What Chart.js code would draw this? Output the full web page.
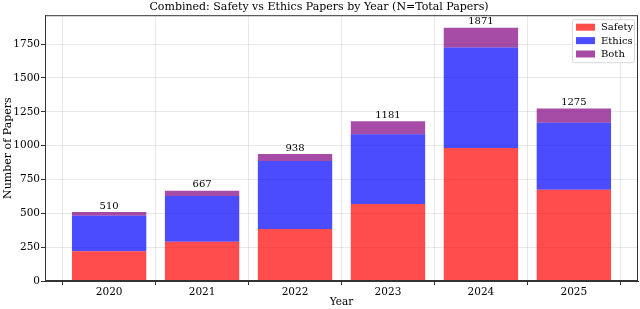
<!DOCTYPE html>
<html>
<head>
<meta charset="utf-8">
<script src="https://cdn.jsdelivr.net/npm/chart.js@4/dist/chart.umd.min.js"></script>
<style>
  html, body { margin: 0; padding: 0; background: #fff; }
  #wrap { width: 640px; height: 309px; }
</style>
</head>
<body>
<div id="wrap"><canvas id="chart" width="640" height="309"></canvas></div>
<script>
// Dados
const anos = ['2020', '2021', '2022', '2023', '2024', '2025'];
const safety = [220, 290, 385, 569, 983, 674];
const ethics = [263, 338, 502, 515, 743, 495];
const both = [27, 39, 51, 97, 145, 106];
const totais = [510, 667, 938, 1181, 1871, 1275];
const yTicks = [0, 250, 500, 750, 1000, 1250, 1500, 1750];

const fonte = "'DejaVu Serif', serif";
const cores = {
    safety: 'rgba(255, 0, 0, 0.7)',
    ethics: 'rgba(0, 0, 255, 0.7)',
    both: 'rgba(128, 0, 128, 0.7)'
};

function pontos(valores) {
    return valores.map((v, i) => ({ x: i, y: v }));
}

// Totais acima das barras + moldura + legenda dentro da área
const extras = {
    id: 'extras',
    afterDatasetsDraw(chart) {
        const ctx = chart.ctx;
        const area = chart.chartArea;
        const topo = chart.getDatasetMeta(2);
        ctx.save();
        ctx.fillStyle = '#000';
        ctx.font = '10px ' + fonte;
        ctx.textAlign = 'center';
        ctx.textBaseline = 'bottom';
        topo.data.forEach((bar, i) => {
            ctx.fillText(String(totais[i]), bar.x, bar.y - 1);
        });

        // moldura
        ctx.strokeStyle = '#333';
        ctx.lineWidth = 1;
        ctx.strokeRect(area.left + 0.5, area.top + 0.5, area.right - area.left - 1, area.bottom - area.top - 1);

        // legenda
        const bx = area.right - 66, by = area.top + 4, bw = 62, bh = 43;
        ctx.fillStyle = 'rgba(255,255,255,0.8)';
        ctx.strokeStyle = '#d8d8d8';
        ctx.beginPath();
        ctx.roundRect(bx + 0.5, by + 0.5, bw, bh, 2);
        ctx.fill();
        ctx.stroke();
        ctx.font = '10px ' + fonte;
        ctx.textAlign = 'left';
        ctx.textBaseline = 'middle';
        chart.data.datasets.forEach((ds, i) => {
            const cy = by + 8 + i * 13.4;
            ctx.fillStyle = ds.backgroundColor;
            ctx.fillRect(bx + 4, cy - 3.5, 19, 7);
            ctx.fillStyle = '#000';
            ctx.fillText(ds.label, bx + 29, cy + 0.5);
        });
        ctx.restore();
    }
};

new Chart(document.getElementById('chart').getContext('2d'), {
    type: 'bar',
    data: {
        datasets: [
            { label: 'Safety', data: pontos(safety), backgroundColor: cores.safety },
            { label: 'Ethics', data: pontos(ethics), backgroundColor: cores.ethics },
            { label: 'Both', data: pontos(both), backgroundColor: cores.both }
        ]
    },
    options: {
        responsive: false,
        animation: false,
        layout: { padding: { left: 0, right: 2, top: 0, bottom: 0 } },
        datasets: {
            bar: { barPercentage: 0.8, categoryPercentage: 1.0 }
        },
        plugins: {
            legend: { display: false },
            tooltip: { enabled: false },
            title: {
                display: true,
                text: 'Combined: Safety vs Ethics Papers by Year (N=Total Papers)',
                color: '#000',
                font: { family: fonte, size: 11, weight: 'normal' },
                padding: { top: 1, bottom: 1 }
            }
        },
        scales: {
            x: {
                type: 'linear',
                stacked: true,
                offset: false,
                min: -0.69,
                max: 5.69,
                afterBuildTicks(scale) {
                    scale.ticks = anos.map((a, i) => ({ value: i }));
                },
                afterFit(scale) {
                    scale.height = 28;
                },
                ticks: {
                    color: '#000',
                    font: { family: fonte, size: 10.5 },
                    padding: 1,
                    maxRotation: 0,
                    callback: (v) => anos[v]
                },
                grid: { color: 'rgba(0,0,0,0.09)', tickColor: '#333', tickLength: 4 },
                border: { color: '#333' },
                title: {
                    display: true,
                    text: 'Year',
                    color: '#000',
                    font: { family: fonte, size: 10.5 },
                    padding: { top: 0, bottom: 0 }
                }
            },
            y: {
                stacked: true,
                min: 0,
                max: 1964,
                afterBuildTicks(scale) {
                    scale.ticks = yTicks.map(v => ({ value: v }));
                },
                afterFit(scale) {
                    scale.width = 45;
                },
                ticks: {
                    color: '#000',
                    font: { family: fonte, size: 10.5 },
                    padding: 1,
                    callback: (v) => String(v)
                },
                grid: { color: 'rgba(0,0,0,0.09)', tickColor: '#333', tickLength: 4 },
                border: { color: '#333' },
                title: {
                    display: true,
                    text: 'Number of Papers',
                    color: '#000',
                    font: { family: fonte, size: 11 },
                    padding: { top: 2, bottom: 0 }
                }
            }
        }
    },
    plugins: [extras]
});
</script>
</body>
</html>
